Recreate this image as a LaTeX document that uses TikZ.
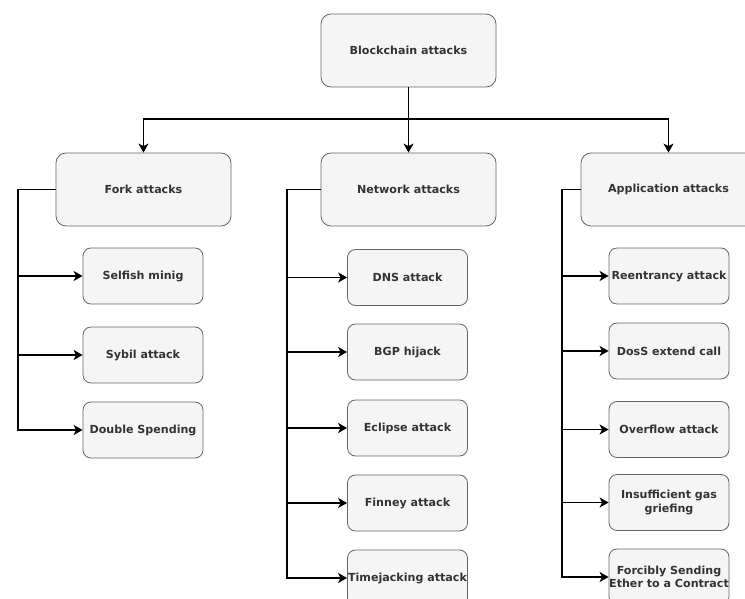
\documentclass[tikz,border=0pt]{standalone}
\usepackage{fontspec}
\setmainfont{DejaVu Sans}
\usetikzlibrary{arrows.meta}
\definecolor{boxfill}{HTML}{F5F5F5}
\definecolor{boxline}{HTML}{666666}
\definecolor{boxtext}{HTML}{333333}

\begin{document}
\begin{tikzpicture}[x=1pt, y=-1pt,
    group/.style={draw=boxline, fill=boxfill, line width=0.8pt, rounded corners=10pt,
        minimum width=175pt, minimum height=73pt, inner sep=0pt, align=center,
        text=boxtext, font=\fontsize{11.1}{13.5}\selectfont\bfseries},
    leaf/.style={group, rounded corners=8pt, minimum width=120pt, minimum height=56pt},
    link/.style={-{Stealth[length=9pt,width=10pt,inset=2.5pt]}, line width=1.8pt}]
            \useasboundingbox (0,0) rectangle (745,599);

            \node[group] (root) at (408.5, 50.5) {Blockchain attacks};
            \node[group] (fork) at (143.5, 189.5) {Fork attacks};
            \node[group] (network) at (408.5, 189.5) {Network attacks};
            \node[group] (app) at (668.5, 189.5) {Application attacks};

            \node[leaf] (selfish) at (143, 276) {Selfish minig};
            \node[leaf] (sybil) at (143, 355) {Sybil attack};
            \node[leaf] (double) at (143, 430) {Double Spending};

            \node[leaf] (dns) at (407.5, 277.5) {DNS attack};
            \node[leaf] (bgp) at (407.5, 352) {BGP hijack};
            \node[leaf] (eclipse) at (407.5, 428) {Eclipse attack};
            \node[leaf] (finney) at (407.5, 503) {Finney attack};
            \node[leaf] (timejack) at (407.5, 578) {Timejacking attack};

            \node[leaf] (reentrancy) at (669, 276) {Reentrancy attack};
            \node[leaf] (doss) at (669, 351) {DosS extend call};
            \node[leaf] (overflow) at (669, 429.5) {Overflow attack};
            \node[leaf] (insufficient) at (669, 502.5) {Insufficient gas\\griefing};
            \node[leaf] (forcibly) at (669, 577) {Forcibly Sending\\Ether to a Contract};

            \coordinate (split) at (408.5, 119);
            \coordinate (forkbus) at (18, 189.5);
            \coordinate (netbus) at (287, 189.5);
            \coordinate (appbus) at (562, 189.5);

            \draw[link] (root) -- (split) -| (fork);
            \draw[link] (root) -- (network);
            \draw[link] (root) -- (split) -| (app);

            \draw[link] (fork) -- (forkbus) |- (selfish);
            \draw[link] (fork) -- (forkbus) |- (sybil);
            \draw[link] (fork) -- (forkbus) |- (double);

            \draw[link] (network) -- (netbus) |- (dns);
            \draw[link] (network) -- (netbus) |- (bgp);
            \draw[link] (network) -- (netbus) |- (eclipse);
            \draw[link] (network) -- (netbus) |- (finney);
            \draw[link] (network) -- (netbus) |- (timejack);

            \draw[link] (app) -- (appbus) |- (reentrancy);
            \draw[link] (app) -- (appbus) |- (doss);
            \draw[link] (app) -- (appbus) |- (overflow);
            \draw[link] (app) -- (appbus) |- (insufficient);
            \draw[link] (app) -- (appbus) |- (forcibly);
        \end{tikzpicture}
\end{document}
